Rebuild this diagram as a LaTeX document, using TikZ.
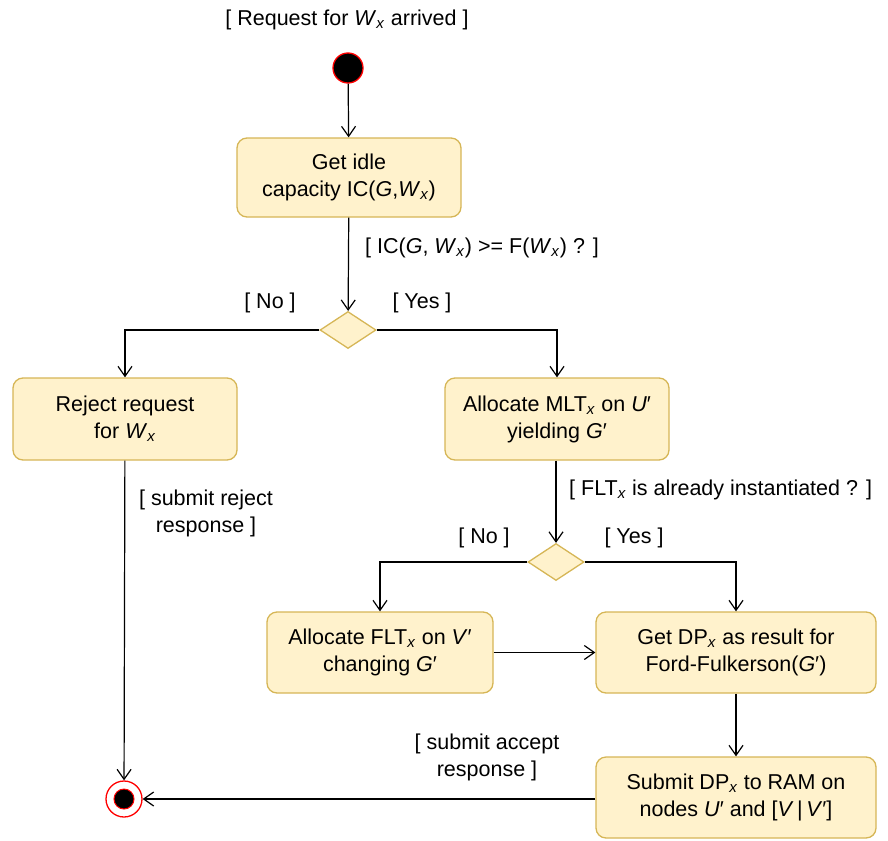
\documentclass[tikz,border=0pt]{standalone}
\usepackage{fontspec}
\setmainfont{Liberation Sans}
\usetikzlibrary{arrows.meta,shapes.geometric}
\definecolor{boxfill}{HTML}{FFF2CC}
\definecolor{boxline}{HTML}{D6B656}
\definecolor{startred}{HTML}{FF0000}
\newcommand{\ix}[1]{\textit{#1}}
\newcommand{\sub}[1]{\textsubscript{\textit{#1}}}
\begin{document}
\begin{tikzpicture}[x=1pt,y=-1pt,
  every node/.style={font=\fontsize{21.5}{27}\selectfont},
  actbox/.style={draw=boxline,fill=boxfill,line width=1.3pt,rounded corners=10pt,align=center,inner sep=0pt},
  decis/.style={draw=boxline,fill=boxfill,line width=1.3pt,diamond,minimum width=56pt,minimum height=37pt,inner sep=0pt},
  flow/.style={draw=black,line width=1.2pt,-{Straight Barb[length=10pt,width=14pt,line width=1.2pt]}},
  guard/.style={align=center,inner sep=0pt}]
\useasboundingbox (0,0) rectangle (888,840);

\node[guard] (title) at (347,20) {[ Request for \ix{W}\sub{x} arrived ]};
\node[circle,fill=black,draw=startred,line width=1.3pt,minimum size=30pt,inner sep=0pt] (start) at (348,68) {};

\node[actbox,minimum width=224pt,minimum height=79pt] (idle) at (349,177.5) {Get idle\\capacity IC(\ix{G},\ix{W}\sub{x})};
\node[decis] (d1) at (348,330) {};
\node[actbox,minimum width=224pt,minimum height=82pt] (reject) at (125,419) {Reject request\\for \ix{W}\sub{x}};
\node[actbox,minimum width=224pt,minimum height=82pt] (mlt) at (557,419) {Allocate MLT\sub{x} on \ix{U}′\\yielding \ix{G}′};
\node[decis] (d2) at (556,562) {};
\node[actbox,minimum width=226pt,minimum height=81pt] (flt) at (380,652.5) {Allocate FLT\sub{x} on \ix{V}′\\changing \ix{G}′};
\node[actbox,minimum width=280pt,minimum height=81pt] (dp) at (736,652.5) {Get DP\sub{x} as result for\\Ford-Fulkerson(\ix{G}′)};
\node[actbox,minimum width=280pt,minimum height=81pt] (sub) at (736,797.5) {Submit DP\sub{x} to RAM on\\nodes \ix{U}′ and [\ix{V}\,|\,\ix{V}′]};

\node[circle,draw=startred,fill=white,line width=1.3pt,minimum size=36pt,inner sep=0pt] (endo) at (124,799) {};
\node[circle,fill=black,draw=startred,line width=1pt,minimum size=20pt,inner sep=0pt] (endi) at (124,799) {};

\draw[flow] (start) -- (idle);
\draw[flow] (idle) -- (d1);
\draw[flow] (d1.west) -| (reject.north);
\draw[flow] (d1.east) -| (mlt.north);
\draw[flow] (reject) -- (endo);
\draw[flow] (mlt.south -| d2.north) -- (d2.north);
\draw[flow] (d2.west) -| (flt.north);
\draw[flow] (d2.east) -| (dp.north);
\draw[flow] (flt) -- (dp);
\draw[flow] (dp) -- (sub);
\draw[flow] (sub.west |- endo.east) -- (endo.east);

\node[guard,anchor=west] (g1) at (365,248) {[ IC(\ix{G}, \ix{W}\sub{x}) >= F(\ix{W}\sub{x}) ? ]};
\node[guard] (no1) at (270,303) {[ No ]};
\node[guard] (yes1) at (422,303) {[ Yes ]};
\node[guard] (rej) at (206,513) {[ submit reject\\response ]};
\node[guard,anchor=west] (g2) at (569,490) {[ FLT\sub{x} is already instantiated ? ]};
\node[guard] (no2) at (484,538) {[ No ]};
\node[guard] (yes2) at (634,538) {[ Yes ]};
\node[guard] (acc) at (487,757) {[ submit accept\\response ]};
\end{tikzpicture}
\end{document}
